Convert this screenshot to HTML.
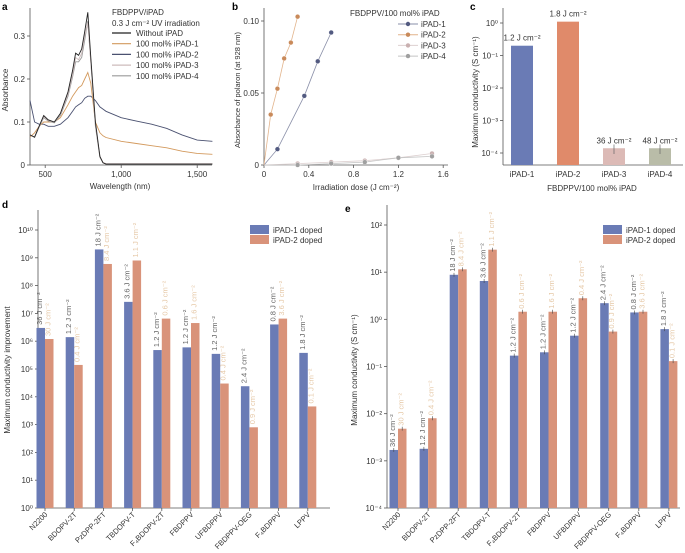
<!DOCTYPE html>
<html><head><meta charset="utf-8"><style>
body{margin:0;background:#fff}
svg{display:block;font-family:"Liberation Sans",sans-serif}
</style></head><body>
<svg id="fig" width="685" height="553" viewBox="0 0 685 553"></svg>
<script>
// ---------- data ----------
const aWave = [400,430,460,490,520,560,600,650,680,700,720,740,760,780,800,830,860,880,900,1000,1100,1200,1300,1400,1500,1600];
const aNone = [0.07,0.065,0.09,0.115,0.105,0.1,0.12,0.17,0.22,0.26,0.255,0.27,0.31,0.355,0.25,0.1,0.02,0.005,0.002,0.002,0.002,0.002,0.002,0.002,0.002,0.002];
const aIpad1= [0.065,0.075,0.09,0.1,0.1,0.1,0.11,0.14,0.16,0.17,0.18,0.185,0.2,0.215,0.19,0.1,0.075,0.068,0.064,0.055,0.05,0.045,0.04,0.032,0.027,0.025];
const aIpad2= [0.15,0.1,0.095,0.095,0.09,0.09,0.095,0.11,0.125,0.135,0.14,0.145,0.155,0.16,0.16,0.15,0.135,0.13,0.125,0.11,0.102,0.095,0.085,0.07,0.058,0.055];
const aIpad3= [0.07,0.065,0.09,0.113,0.104,0.1,0.118,0.165,0.21,0.25,0.245,0.26,0.3,0.33,0.24,0.095,0.02,0.006,0.003,0.003,0.003,0.003,0.003,0.003,0.003,0.003];
const aIpad4= [0.07,0.064,0.088,0.11,0.102,0.098,0.115,0.16,0.205,0.24,0.24,0.25,0.29,0.335,0.24,0.09,0.018,0.005,0.002,0.002,0.002,0.002,0.002,0.002,0.002,0.002];
const bDose1=[0,0.12,0.36,0.48,0.6], bVal1=[0,0.011,0.048,0.072,0.092];
const bDose2=[0,0.06,0.12,0.18,0.24,0.3], bVal2=[0,0.035,0.053,0.074,0.085,0.103];
const bDose3=[0,0.3,0.6,0.9,1.2,1.5], bVal3=[0,0.001,0.002,0.003,0.005,0.008];
const bDose4=[0,0.3,0.6,0.9,1.2,1.5], bVal4=[0,0,0.001,0.002,0.005,0.006];
const cCats=["iPAD-1","iPAD-2","iPAD-3","iPAD-4"];
const cVals=[0.2,1.1,1.4e-4,1.4e-4];
const cLabels=["1.2 J cm⁻²","1.8 J cm⁻²","36 J cm⁻²","48 J cm⁻²"];
const polys=["N2200","BDOPV-2T","PzDPP-2FT","TBDOPV-T","F₄BDOPV-2T","FBDPPV","UFBDPPV","FBDPPV-OEG","F₄BDPPV","LPPV"];
const dBlue=[3e6,1.4e6,2e9,2.6e7,4.8e5,6e5,3.5e5,2.4e4,4e6,3.8e5];
const dOrange=[1.2e6,1.4e5,6e8,8e8,6.5e6,4.5e6,3e4,800,6.5e6,4.5e3];
const eBlue=[1.7e-3,1.8e-3,8.8,6.5,0.17,0.2,0.45,2.2,1.4,0.62];
const eOrange=[4.8e-3,8e-3,11.5,30,1.45,1.45,2.8,0.55,1.45,0.13];
const doseBlue=["36 J cm⁻²","1.2 J cm⁻²","18 J cm⁻²","3.6 J cm⁻²","1.2 J cm⁻²","1.2 J cm⁻²","1.2 J cm⁻²","2.4 J cm⁻²","0.8 J cm⁻²","1.8 J cm⁻²"];
const doseOrange=["30 J cm⁻²","0.4 J cm⁻²","8.4 J cm⁻²","1.1 J cm⁻²","0.6 J cm⁻²","1.6 J cm⁻²","0.4 J cm⁻²","0.9 J cm⁻²","3.6 J cm⁻²","0.1 J cm⁻²"];
const supTicks=["⁰","¹","²","³","⁴","⁵","⁶","⁷","⁸","⁹","¹⁰"];

const S=document.getElementById('fig');
const NS='http://www.w3.org/2000/svg';
function mk(tag,attrs,parent,text){const e=document.createElementNS(NS,tag);for(const k in attrs)e.setAttribute(k,attrs[k]);if(text!==undefined)e.textContent=text;(parent||S).appendChild(e);return e;}
function txt(x,y,s,size,anchor,fill,name,rot){const e=mk('text',{x:x,y:y,'font-size':size,'text-anchor':anchor||'start',fill:fill||'#333'},S,s);if(rot!==undefined)e.setAttribute('transform','rotate('+rot+' '+x+' '+y+')');return e;}
function line(x1,y1,x2,y2,c,w,name){const e=mk('line',{x1:x1,y1:y1,x2:x2,y2:y2,stroke:c||'#555','stroke-width':w||0.8});return e;}
const BLUE='#6a7bb5',ORANGE='#d9937a';

// panel letters
[['a',2,10],['b',232,10],['c',470,10],['d',2,208],['e',345,212]].forEach(p=>{const t=txt(p[1],p[2],p[0],10,'start','#000','panel-label-'+p[0]);t.setAttribute('font-weight','bold');});

// ---------- panel a ----------
const ax=w=>30+(w-400)*0.152, ay=v=>165-v*430;
line(30,8,30,165,'#555',0.8,'a-y-axis');line(30,165,212,165,'#555',0.8,'a-x-axis');
[0,0.1,0.2,0.3].forEach(v=>{line(27,ay(v),30,ay(v),'#555',0.8,'a-y-tick');txt(25,ay(v)+3,v===0?'0':v.toFixed(1),8,'end','#333','a-y-tick-label');});
[[500,'500'],[1000,'1,000'],[1500,'1,500']].forEach(t=>{line(ax(t[0]),165,ax(t[0]),168,'#555',0.8,'a-x-tick');txt(ax(t[0]),177,t[1],8,'middle','#333','a-x-tick-label');});
txt(120,189,'Wavelength (nm)',8,'middle','#333','a-x-title');
txt(8,90,'Absorbance',8,'middle','#333','a-y-title',-90);
const aSeries=[[aIpad2,'#4a5170','100 mol% iPAD-2'],[aIpad1,'#d39a5e','100 mol% iPAD-1'],[aIpad4,'#9a9a9a','100 mol% iPAD-4'],[aIpad3,'#cdbcbc','100 mol% iPAD-3'],[aNone,'#222','Without iPAD']];
aSeries.forEach((s,i)=>{const d=s[0].map((v,j)=>(j?'L':'M')+ax(aWave[j]).toFixed(1)+' '+ay(v).toFixed(1)).join(' ');const p=mk('path',{d:d,fill:'none',stroke:s[1],'stroke-width':0.9});});
txt(112,15,'FBDPPV/iPAD',8,'start','#333','a-legend-title');
txt(112,26,'0.3 J cm⁻² UV irradiation',8,'start','#333','a-legend-subtitle');
[['Without iPAD','#222'],['100 mol% iPAD-1','#d39a5e'],['100 mol% iPAD-2','#4a5170'],['100 mol% iPAD-3','#cdbcbc'],['100 mol% iPAD-4','#9a9a9a']].forEach((l,i)=>{const y=36+i*10.7;line(112,y-3,131,y-3,l[1],1.2,'a-legend-swatch');txt(136,y,l[0],8,'start','#333','a-legend-entry');});

// ---------- panel b ----------
const bx=d=>264+d*112, by=v=>165-v*1440;
line(264,8,264,165,'#555',0.8,'b-y-axis');line(264,165,448,165,'#555',0.8,'b-x-axis');
[[0,'0'],[0.05,'0.05'],[0.1,'0.10']].forEach(t=>{line(261,by(t[0]),264,by(t[0]),'#555',0.8,'b-y-tick');txt(259,by(t[0])+3,t[1],8,'end','#333','b-y-tick-label');});
[[0,'0'],[0.4,'0.4'],[0.8,'0.8'],[1.2,'1.2'],[1.6,'1.6']].forEach(t=>{line(bx(t[0]),165,bx(t[0]),168,'#555',0.8,'b-x-tick');txt(bx(t[0]),177,t[1],8,'middle','#333','b-x-tick-label');});
txt(356,190,'Irradiation dose (J cm⁻²)',8,'middle','#333','b-x-title');
txt(240,90,'Absorbance of polaron (at 928 nm)',7.5,'middle','#333','b-y-title',-90);
const bSeries=[[bDose1,bVal1,'#525a80','#8a8fa8','iPAD-1'],[bDose2,bVal2,'#c98a5a','#e2b48c','iPAD-2'],[bDose3,bVal3,'#c9b0b0','#ddd0d0','iPAD-3'],[bDose4,bVal4,'#a0a0a0','#c4c4c4','iPAD-4']];
bSeries.forEach(s=>{const d=s[0].map((v,j)=>(j?'L':'M')+bx(v).toFixed(1)+' '+by(s[1][j]).toFixed(1)).join(' ');const p=mk('path',{d:d,fill:'none',stroke:s[3],'stroke-width':0.8});
 s[0].forEach((v,j)=>{if(j===0)return;const c=mk('circle',{cx:bx(v),cy:by(s[1][j]),r:2.4,fill:s[2],stroke:'#fff','stroke-width':0.4});});});
txt(350,16,'FBDPPV/100 mol% iPAD',8,'start','#333','b-legend-title');
bSeries.forEach((s,i)=>{const y=27+i*10.7;line(398,y-3,418,y-3,s[3],1,'b-legend-swatch');const c=mk('circle',{cx:408,cy:y-3,r:2.2,fill:s[2]});txt(421,y,s[4],8,'start','#333','b-legend-entry');});

// ---------- panel c ----------
const cy=v=>23-Math.log10(v)*32.5;
line(503,8,503,165,'#555',0.8,'c-y-axis');line(503,165,683,165,'#555',0.8,'c-x-axis');
[0,-1,-2,-3,-4].forEach(k=>{line(500,cy(Math.pow(10,k)),503,cy(Math.pow(10,k)),'#555',0.8,'c-y-tick');txt(498,cy(Math.pow(10,k))+3,'10'+(k===0?'⁰':'⁻'+supTicks[-k]),8,'end','#333','c-y-tick-label');});
txt(478,92,'Maximum conductivity (S cm⁻¹)',8,'middle','#333','c-y-title',-90);
const cCols=['#6a7bb5','#e08a6a','#dcbab6','#b9bca8'];
cCats.forEach((c,i)=>{const x=522+i*46;const r=mk('rect',{x:x-11,y:cy(cVals[i]),width:22,height:165-cy(cVals[i]),fill:cCols[i]});
 if(i>=2){line(x,cy(cVals[i]*1.3),x,cy(cVals[i]/1.5),'#666',0.7,'c-error-bar');}
 txt(x,cy(cVals[i])-5,cLabels[i],8,'middle','#333','c-bar-label');txt(x,177,c,8,'middle','#333','c-x-tick-label');});
txt(592,191,'FBDPPV/100 mol% iPAD',8,'middle','#333','c-x-title');

// ---------- grouped bar helper ----------
function grouped(pfx,x0,x1,yTop,yBot,decTop,decBot,gx0,gstep,blue,orange,ticks){
 const yv=v=>yBot-(Math.log10(v)-decBot)*(yBot-yTop)/(decTop-decBot);
 line(x0,yTop-20,x0,yBot,'#555',0.8,pfx+'-y-axis');line(x0,yBot,x1,yBot,'#555',0.8,pfx+'-x-axis');
 ticks.forEach(k=>{const y=yv(Math.pow(10,k));line(x0-3,y,x0,y,'#555',0.8,pfx+'-y-tick');txt(x0-5,y+3,'10'+(k<0?'⁻'+supTicks[-k]:supTicks[k]),8,'end','#333',pfx+'-y-tick-label');});
 polys.forEach((p,i)=>{const cx=gx0+i*gstep;
  const b=mk('rect',{x:cx-8.5,y:yv(blue[i]),width:8.5,height:yBot-yv(blue[i]),fill:BLUE});
  const o=mk('rect',{x:cx,y:yv(orange[i]),width:8.5,height:yBot-yv(orange[i]),fill:ORANGE});
  txt(cx-3,yv(blue[i])-3,doseBlue[i],7.5,'start','#666',pfx+'-dose-label-ipad1',-90);
  txt(cx+5.5,yv(orange[i])-3,doseOrange[i],7.5,'start','#e6c9a8',pfx+'-dose-label-ipad2',-90);
  line(cx,yBot,cx,yBot+3,'#555',0.8,pfx+'-x-tick');
  txt(cx+3,yBot+7,p,7.5,'end','#333',pfx+'-x-tick-label',-45);
 });
 return yv;
}
// panel d
grouped('d',38,330,230,508,10,0,45,29.2,dBlue,dOrange,[0,1,2,3,4,5,6,7,8,9,10]);
txt(10,370,'Maximum conductivity improvement',8,'middle','#333','d-y-title',-90);
// panel e
const ey=grouped('e',387,680,225,508,2,-4,398,30.1,eBlue,eOrange,[2,1,0,-1,-2,-3,-4]);
polys.forEach((p,i)=>{const cx=398+i*30.1;line(cx-4.2,ey(eBlue[i]*1.1),cx-4.2,ey(eBlue[i]/1.1),'#444',0.6,'e-error-bar');line(cx+4.2,ey(eOrange[i]*1.1),cx+4.2,ey(eOrange[i]/1.1),'#444',0.6,'e-error-bar');});
txt(357,370,'Maximum conductivity (S cm⁻¹)',8,'middle','#333','e-y-title',-90);
// legends
[['d',250,225],['e',603,225]].forEach(L=>{const r1=mk('rect',{x:L[1],y:L[2],width:19,height:9,fill:BLUE});
 const r2=mk('rect',{x:L[1],y:L[2]+10,width:19,height:9,fill:ORANGE});
 txt(L[1]+23,L[2]+8,'iPAD-1 doped',8,'start','#333',L[0]+'-legend-entry-ipad1');txt(L[1]+23,L[2]+18,'iPAD-2 doped',8,'start','#333',L[0]+'-legend-entry-ipad2');});
</script>
</body></html>
